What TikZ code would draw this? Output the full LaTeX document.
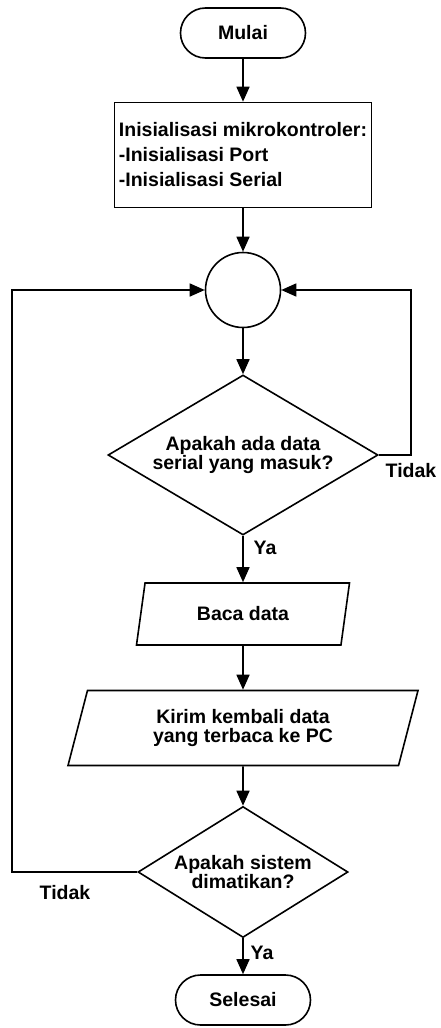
\documentclass[tikz,border=0pt]{standalone}
\usepackage{fontspec}
\setmainfont{Liberation Sans}
\usetikzlibrary{shapes.geometric,arrows.meta}

\begin{document}
\begin{tikzpicture}[x=1pt,y=1pt,
  font=\fontsize{19.5}{19.5}\selectfont\bfseries,
  line width=1.6pt,
  arr/.style={-{Triangle[width=13pt,length=15pt]}},
  terminal/.style={draw, rectangle, rounded corners=25pt, minimum width=#1, minimum height=50pt},
  proses/.style={draw, rectangle, align=left, inner sep=4pt},
  keputusan/.style={draw, diamond, align=center, inner sep=0pt},
  io/.style={draw, trapezium, trapezium left angle=65, trapezium right angle=115, trapezium stretches body, align=center, inner sep=2pt}]
\useasboundingbox (0,0) rectangle (440,-1028);
\node[terminal=125pt] (mulai) at (243,-33) {Mulai};
\node[proses, minimum width=257pt, minimum height=105pt, font=\fontsize{19.5}{25}\selectfont\bfseries] (init) at (243,-155) {Inisialisasi mikrokontroler:\\-Inisialisasi Port\\-Inisialisasi Serial};
\node[draw, circle, minimum size=75pt] (konektor) at (243,-290) {};
\node[keputusan, minimum width=270pt, minimum height=160pt, aspect=1.69] (cekserial) at (243,-455) {Apakah ada data\\serial yang masuk?};
\node[io, minimum width=213pt, minimum height=62pt] (baca) at (243,-614) {Baca data};
\node[io, minimum width=350pt, minimum height=75pt] (kirim) at (243,-728) {Kirim kembali data\\yang terbaca ke PC};
\node[keputusan, minimum width=210pt, minimum height=131pt, aspect=1.6] (cekmati) at (243,-872) {Apakah sistem\\dimatikan?};
\node[terminal=135pt] (selesai) at (243,-1000) {Selesai};
% labels of the branches
\node (tidaka) at (411,-471) {Tidak};
\node (yaa) at (265,-548) {Ya};
\node (tidakb) at (65,-893) {Tidak};
\node (yab) at (262,-953) {Ya};
% main flow
\draw[arr] (mulai) -- (init);
\draw[arr] (init) -- (konektor);
\draw[arr] (konektor) -- (cekserial);
\draw[arr] (cekserial) -- (baca);
\draw[arr] (baca) -- (kirim);
\draw[arr] (kirim) -- (cekmati);
\draw[arr] (cekmati) -- (selesai);
% loops back to the connector
\draw[arr] (cekserial.east) -- ++(32,0) |- (konektor);
\draw[arr] (cekmati.west) -- ++(-125,0) |- (konektor);
\end{tikzpicture}
\end{document}
